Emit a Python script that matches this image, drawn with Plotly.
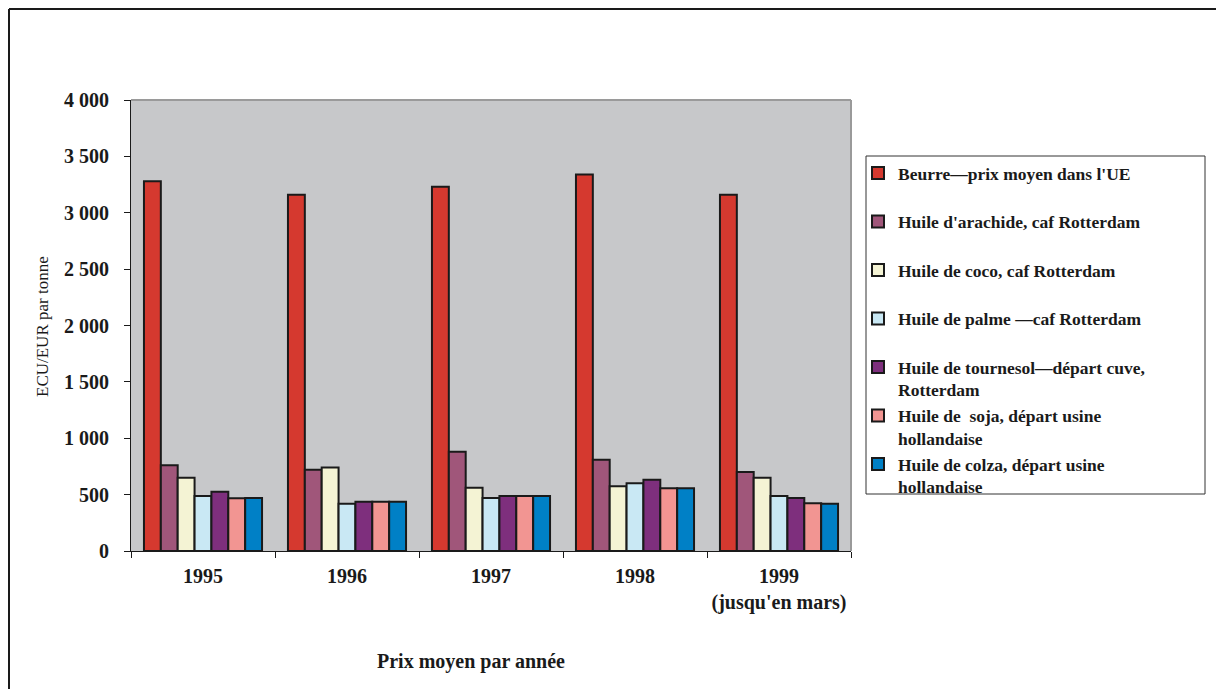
import plotly.graph_objects as go

# Categories (years) and series values in ECU/EUR per tonne
years = ["1995", "1996", "1997", "1998", "1999<br>(jusqu'en mars)"]

series_names = [
    "Beurre—prix moyen dans l'UE<br> ",
    "Huile d'arachide, caf Rotterdam<br> ",
    "Huile de coco, caf Rotterdam<br> ",
    "Huile de palme —caf Rotterdam<br> ",
    "Huile de tournesol—départ cuve,<br>Rotterdam",
    "Huile de  soja, départ usine<br>hollandaise",
    "Huile de colza, départ usine<br>hollandaise",
]

beurre = [3280, 3160, 3230, 3340, 3160]
arachide = [760, 720, 880, 810, 700]
coco = [650, 740, 560, 575, 650]
palme = [488, 420, 470, 600, 488]
tournesol = [525, 437, 488, 632, 470]
soja = [467, 437, 488, 556, 423]
colza = [470, 437, 488, 556, 420]

series_values = [beurre, arachide, coco, palme, tournesol, soja, colza]
series_colors = ["#D5392F", "#A0567A", "#F4F3D4", "#C9E8F4", "#7E2F7D", "#F29592", "#0080C6"]

y_tickvals = [0, 500, 1000, 1500, 2000, 2500, 3000, 3500, 4000]
y_ticktext = ["0", "500", "1 000", "1 500", "2 000", "2 500", "3 000", "3 500", "4 000"]

FONT = "Liberation Serif"
INK = "#1a1a1a"

# Page geometry (pixels)
W, H = 1216, 689
L, R, T, B = 131, 851, 100, 551


def px_x(x):
    return (x - L) / (R - L)


def px_y(y):
    return (B - y) / (B - T)


fig = go.Figure()
for name, vals, col in zip(series_names, series_values, series_colors):
    fig.add_trace(go.Bar(
        x=years, y=vals, name=name,
        marker=dict(color=col, line=dict(color=INK, width=2)),
        legendgroup=name,
    ))

fig.update_layout(
    width=W, height=H,
    margin=dict(l=L, r=W - R, t=T, b=H - B, autoexpand=False),
    paper_bgcolor="white",
    plot_bgcolor="#C7C8CA",
    barmode="group",
    bargap=0.18,
    bargroupgap=0,
    font=dict(family=FONT, color=INK),
    showlegend=True,
    legend=dict(
        x=px_x(858), y=px_y(155), xanchor="left", yanchor="top",
        borderwidth=0, bgcolor="rgba(0,0,0,0)",
        font=dict(family=FONT, size=17.5, weight="bold", color=INK),
        tracegroupgap=0,
        valign="top",
        traceorder="normal",
        itemwidth=30,
    ),
    xaxis=dict(
        type="category",
        showline=True, linecolor=INK, linewidth=1,
        ticks="outside", ticklen=6, tickcolor=INK,
        tickson="boundaries",
        tickangle=0,
        tickfont=dict(family=FONT, size=20, weight="bold"),
        showgrid=False,
        ticklabelstandoff=7,
    ),
    yaxis=dict(
        range=[0, 4000],
        tickvals=y_tickvals, ticktext=y_ticktext,
        showline=True, linecolor=INK, linewidth=1,
        ticks="outside", ticklen=6, tickcolor=INK,
        tickfont=dict(family=FONT, size=20, weight="bold"),
        showgrid=False, zeroline=False,
        ticklabelstandoff=11,
    ),
    shapes=[
        # plot-area frame, top and right edges
        dict(type="line", xref="paper", yref="paper", x0=0, x1=1, y0=1, y1=1,
             line=dict(color="#9A9A9A", width=2)),
        dict(type="line", xref="paper", yref="paper", x0=1, x1=1, y0=0, y1=1,
             line=dict(color="#9A9A9A", width=2)),
        # legend frame
        dict(type="rect", xref="paper", yref="paper",
             x0=px_x(866), x1=px_x(1205), y0=px_y(156), y1=px_y(494),
             line=dict(color="#333333", width=1), fillcolor="rgba(0,0,0,0)"),
        # outer chart border (top and left)
        dict(type="line", xref="paper", yref="paper", x0=px_x(9), x1=px_x(W + 5),
             y0=px_y(9), y1=px_y(9), line=dict(color=INK, width=2)),
        dict(type="line", xref="paper", yref="paper", x0=px_x(9), x1=px_x(9),
             y0=px_y(9), y1=px_y(H + 5), line=dict(color=INK, width=2)),
    ],
    annotations=[
        dict(text="ECU/EUR par tonne", xref="paper", yref="paper",
             x=px_x(42), y=px_y(327), textangle=-90, showarrow=False,
             xanchor="center", yanchor="middle",
             font=dict(family=FONT, size=17, color=INK)),
        dict(text="Prix moyen par année", xref="paper", yref="paper",
             x=px_x(471), y=px_y(661), showarrow=False,
             xanchor="center", yanchor="middle",
             font=dict(family=FONT, size=20, weight="bold", color=INK)),
    ],
)

fig.write_html("out.html")
